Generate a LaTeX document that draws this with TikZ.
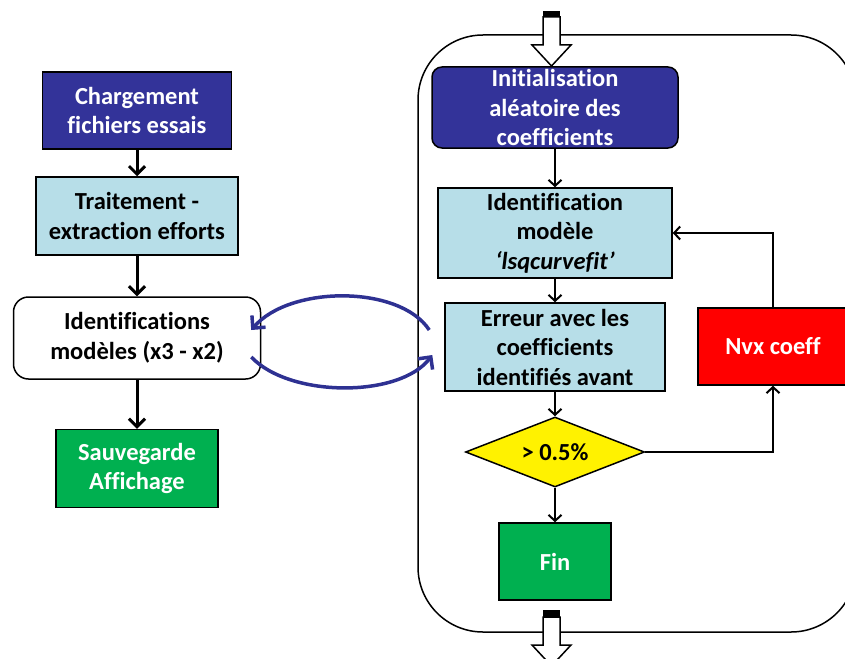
\documentclass[tikz,border=0pt]{standalone}
\usepackage{fontspec}
\setmainfont[Ligatures={NoCommon}]{Carlito}
\usetikzlibrary{arrows.meta,shapes.geometric}
\definecolor{dblue}{HTML}{333399}
\definecolor{lblue}{HTML}{B7DEE8}
\definecolor{fgreen}{HTML}{00B050}
\definecolor{cblue}{HTML}{2E3192}
\begin{document}
\begin{tikzpicture}[x=1pt,y=-1pt,
  box/.style={draw=black, line width=1.5pt, inner sep=0pt, align=center,
    font=\fontsize{24.5}{29.5}\selectfont\bfseries},
  arrL/.style={line width=3pt, -{Straight Barb[length=8pt,width=16pt]}},
  arrR/.style={line width=2pt, -{Straight Barb[length=6pt,width=13pt]}},
  curv/.style={draw=cblue, line width=3.5pt, -{Straight Barb[length=9pt,width=18pt]}},
  hollow/.style={draw=black, line width=1.5pt, fill=white}]
\useasboundingbox (0,0) rectangle (845,658);
\clip (0,0) rectangle (845,658);

% outer frame
\draw[line width=1.5pt, rounded corners=65pt] (418,35) rectangle (856,632);

% left column
\node[box, fill=dblue, text=white, minimum width=189pt, minimum height=77pt] (charg) at (137,110.5) {Chargement\\fichiers essais};
\node[box, fill=lblue, minimum width=202pt, minimum height=78pt] (trait) at (137,216) {Traitement -\\extraction efforts};
\node[box, fill=white, rounded corners=15pt, minimum width=247pt, minimum height=82pt] (identL) at (137,338) {Identifications\\modèles (x3 - x2)};
\node[box, fill=fgreen, text=white, minimum width=162pt, minimum height=78pt] (sauv) at (137,468.5) {Sauvegarde\\Affichage};

\draw[arrL] (charg.south) -- (trait.north);
\draw[arrL] (trait.south) -- (identL.north);
\draw[arrL] (identL.south) -- (sauv.north);

% right column
\node[box, fill=dblue, text=white, rounded corners=10pt, minimum width=246pt, minimum height=81pt] (init) at (555,107.5) {Initialisation\\aléatoire des\\coefficients};
\node[box, fill=lblue, minimum width=234pt, minimum height=90pt] (ident) at (555,233) {Identification\\modèle\\\textit{‘lsqcurvefit’}};
\node[box, fill=lblue, minimum width=220pt, minimum height=88pt] (err) at (555,347) {Erreur avec les\\coefficients\\identifiés avant};
\node[box, fill=red, text=white, minimum width=150pt, minimum height=77pt] (nvx) at (773,346.5) {Nvx coeff};
\node[box, diamond, aspect=2.56, fill=yellow, minimum width=179pt, minimum height=70pt] (dia) at (555,452) {> 0.5\%};
\node[box, fill=fgreen, text=white, minimum width=112pt, minimum height=77pt] (fin) at (555,561.5) {Fin};

\draw[arrR] (init.south) -- (ident.north);
\draw[arrR] (ident.south) -- (err.north);
\draw[arrR] (err.south) -- (dia.north);
\draw[arrR] (dia.south) -- (fin.north);
\draw[arrR] (nvx.north) |- (ident.east);
\draw[arrR] (dia.east) -| (nvx.south);

% curved exchange arrows
\coordinate (u1) at ([shift={(-15,-17)}]err.west);
\coordinate (u2) at ([shift={(-10,-8)}]identL.east);
\coordinate (l1) at ([shift={(-10,19)}]identL.east);
\coordinate (l2) at ([shift={(-12,8)}]err.west);
\draw[curv] (u1) .. controls (400,285) and (290,285) .. (u2);
\draw[curv] (l1) .. controls (290,398) and (400,398) .. (l2);

% hollow block arrows in/out of the frame
\draw[hollow] (543,17) -- (560,17) -- (560,45) -- (571,45) -- (551.5,66) -- (532,45) -- (543,45) -- cycle;
\fill (543,11) rectangle (560,17);
\draw[hollow] (543,617) -- (560,617) -- (560,645) -- (571,645) -- (551.5,666) -- (532,645) -- (543,645) -- cycle;
\fill (543,610) rectangle (560,617);
\end{tikzpicture}
\end{document}
